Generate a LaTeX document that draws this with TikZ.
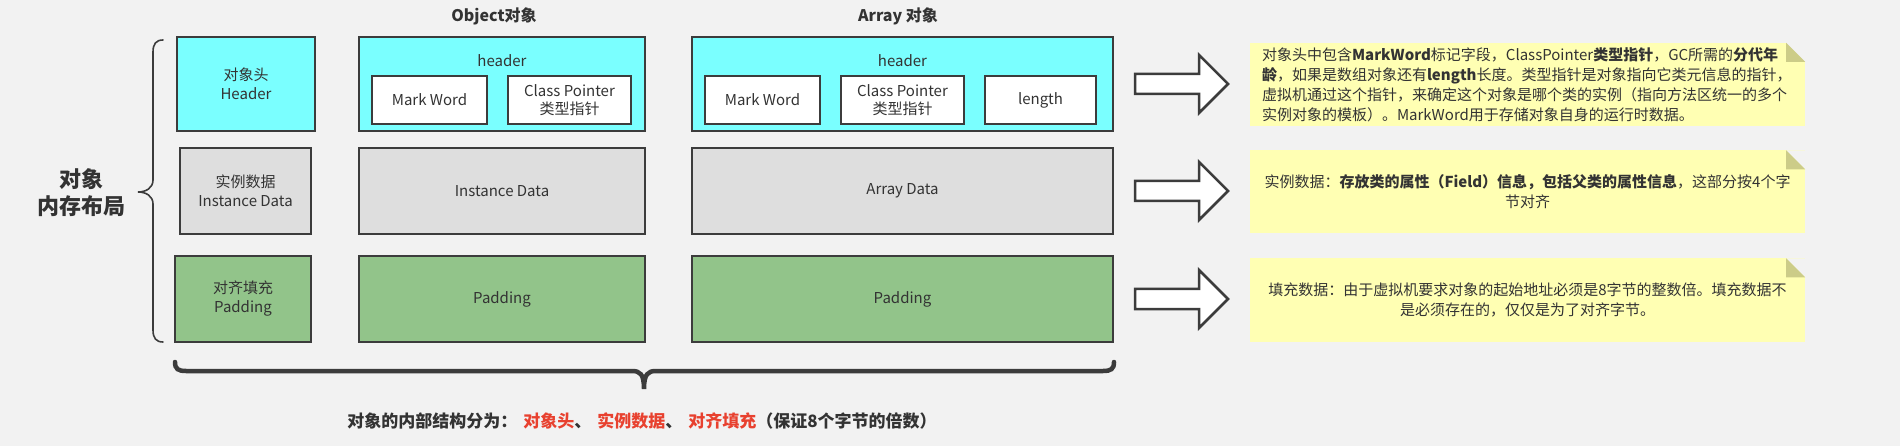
\documentclass[tikz,border=0pt]{standalone}
\usepackage{fontspec}
\setmainfont{Noto Sans CJK SC}
\usepackage{xcolor}
\definecolor{layoutbg}{HTML}{F2F2F2}
\definecolor{layoutink}{HTML}{333333}
\definecolor{layoutline}{HTML}{3C3C3C}
\definecolor{hdrcyan}{HTML}{7AFFFF}
\definecolor{datagray}{HTML}{DEDEDE}
\definecolor{padgreen}{HTML}{92C48A}
\definecolor{noteyellow}{HTML}{FFFFB3}
\definecolor{notefold}{HTML}{CCCC88}
\definecolor{accentred}{HTML}{E8412F}
\usetikzlibrary{positioning}

\begin{document}
\begin{tikzpicture}[x=1pt, y=-1pt,
  every node/.style={text=layoutink},
  areabox/.style={rectangle, draw=layoutline, line width=2.5pt, align=center,
    inner sep=0pt, font=\fontsize{15}{19}\selectfont},
  headarea/.style={areabox, fill=hdrcyan},
  dataarea/.style={areabox, fill=datagray},
  padarea/.style={areabox, fill=padgreen},
  fieldbox/.style={rectangle, draw=layoutline, line width=2pt, fill=white,
    align=center, inner sep=0pt, minimum height=48pt, font=\fontsize{15}{18}\selectfont},
  coltitle/.style={font=\fontsize{16}{19}\selectfont\bfseries},
  notebox/.style={rectangle, fill=noteyellow, text width=531pt, inner xsep=12pt,
    inner ysep=0pt, minimum height=83pt, font=\fontsize{15}{20}\selectfont},
  bigarrow/.style={draw=layoutline, line width=2.5pt, fill=white, line join=miter},
  curly/.style={draw=layoutline, line cap=round}
]
\fill[layoutbg] (0,0) rectangle (1900,446);
\useasboundingbox (0,0) rectangle (1900,446);

% left column
\node[font=\fontsize{22}{27}\selectfont\bfseries, align=center] (memlabel) at (81,193)
  {对象\\内存布局};
\node[headarea, minimum width=138pt, minimum height=94pt] (hdrlbl) at (246,84)
  {对象头\\Header};
\node[dataarea, minimum width=131pt, minimum height=86pt] (instlbl) at (245.5,191)
  {实例数据\\Instance Data};
\node[padarea, minimum width=136pt, minimum height=86pt] (padlbl) at (243,299)
  {对齐填充\\Padding};

\draw[curly, line width=1.6pt] (163,40) .. controls (156,40) and (153,44) .. (153,52)
  -- (153,180) .. controls (153,188) and (146,192) .. (138,192)
  .. controls (146,192) and (153,196) .. (153,204)
  -- (153,330) .. controls (153,338) and (156,342) .. (163,342);

% Object
\node[coltitle] (objtitle) at (494,16) {Object对象};
\node[headarea, minimum width=286pt, minimum height=94pt] (objhdr) at (502,84) {};
\node[font=\fontsize{15}{18}\selectfont] (objhdrtxt) at (502,61) {header};
\node[fieldbox, minimum width=115pt] (objmw) at (429.5,100) {Mark Word};
\node[fieldbox, minimum width=123pt, right=19pt of objmw] (objcp) {Class Pointer\\类型指针};
\node[dataarea, minimum width=286pt, minimum height=86pt, below=14.5pt of objhdr] (objinst)
  {Instance Data};
\node[padarea, minimum width=286pt, minimum height=86pt, below=19.5pt of objinst] (objpad)
  {Padding};

% Array
\node[coltitle] (arrtitle) at (898,16) {Array 对象};
\node[headarea, minimum width=421pt, minimum height=94pt] (arrhdr) at (902.5,84) {};
\node[font=\fontsize{15}{18}\selectfont] (arrhdrtxt) at (902.5,61) {header};
\node[fieldbox, minimum width=115pt] (arrmw) at (762.5,100) {Mark Word};
\node[fieldbox, minimum width=123pt, right=19pt of arrmw] (arrcp) {Class Pointer\\类型指针};
\node[fieldbox, minimum width=111pt, right=19pt of arrcp] (arrlen) {length};
\node[dataarea, minimum width=421pt, minimum height=86pt, below=14.5pt of arrhdr] (arrinst)
  {Array Data};
\node[padarea, minimum width=421pt, minimum height=86pt, below=19.5pt of arrinst] (arrpad)
  {Padding};

% block arrows
\foreach \y in {84,191,299}
  \draw[bigarrow] (1135,\y-10) -- (1199,\y-10) -- (1199,\y-29) -- (1228,\y)
    -- (1199,\y+29) -- (1199,\y+10) -- (1135,\y+10) -- cycle;

% notes
\node[notebox, align=left] (hdrnote) at (1527.5,84.5)
  {对象头中包含\textbf{MarkWord}标记字段，ClassPointer\textbf{类型指针}，GC所需的\textbf{分代年}\\
   \textbf{龄}，如果是数组对象还有\textbf{length}长度。类型指针是对象指向它类元信息的指针，\\
   虚拟机通过这个指针，来确定这个对象是哪个类的实例（指向方法区统一的多个\\
   实例对象的模板）。MarkWord用于存储对象自身的运行时数据。};
\node[notebox, align=center] (instnote) at (1527.5,192)
  {实例数据：\textbf{存放类的属性（Field）信息，包括父类的属性信息}，这部分按4个字\\节对齐};
\node[notebox, align=center] (padnote) at (1527.5,300)
  {填充数据：由于虚拟机要求对象的起始地址必须是8字节的整数倍。填充数据不\\是必须存在的，仅仅是为了对齐字节。};
\foreach \n in {hdrnote,instnote,padnote} {
  \fill[layoutbg] (\n.north east) -- ++(-19,0) -- ++(19,19) -- cycle;
  \fill[notefold] (\n.north east) ++(-19,0) -- ++(19,19) -- ++(-19,0) -- cycle;
}

% bottom brace
\draw[curly, line width=4.5pt] (175,362) .. controls (175,369) and (178,371) .. (186,371)
  -- (632,371) .. controls (640,371) and (644,374) .. (644,389)
  .. controls (644,374) and (648,371) .. (656,371)
  -- (1103,371) .. controls (1111,371) and (1114,369) .. (1114,362);
\node[font=\fontsize{17}{20}\selectfont\bfseries] (summary) at (642,421)
  {对象的内部结构分为：\hspace{6pt}\textcolor{accentred}{对象头}、\hspace{6pt}\textcolor{accentred}{实例数据}、\hspace{6pt}\textcolor{accentred}{对齐填充}（保证8个字节的倍数）};
\end{tikzpicture}
\end{document}
